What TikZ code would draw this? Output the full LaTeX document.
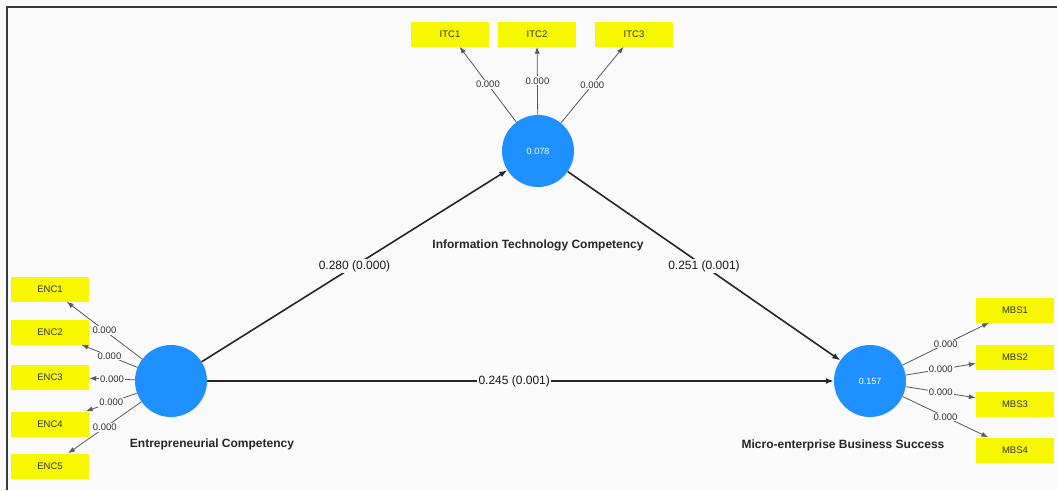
\documentclass[tikz,border=0pt]{standalone}
\usepackage{fontspec}
\setmainfont{Liberation Sans}
\usetikzlibrary{arrows.meta}
\definecolor{bgc}{HTML}{FAFAFA}
\definecolor{lvblue}{HTML}{1E90FF}
\definecolor{indyel}{HTML}{F7F700}
\definecolor{framec}{HTML}{3A3A3A}
\begin{document}
\begin{tikzpicture}[x=1pt,y=-1pt,
  lv/.style={circle,fill=lvblue,minimum size=72pt,inner sep=0pt,text=white,font=\fontsize{9}{10}\selectfont},
  ind/.style={rectangle,fill=indyel,minimum width=78pt,minimum height=25pt,inner sep=0pt,font=\fontsize{9.5}{11}\selectfont,text=black!80},
  pathline/.style={line width=1.6pt,black!85,-{Latex[length=8pt,width=6pt]}},
  loadline/.style={line width=0.8pt,black!65,-{Latex[length=7pt,width=5pt]}},
  coef/.style={fill=bgc,inner sep=1.5pt,font=\fontsize{12}{14}\selectfont,text=black!90},
  ldg/.style={fill=bgc,inner sep=1pt,font=\fontsize{9.5}{11}\selectfont,text=black!80},
  lvname/.style={font=\bfseries\fontsize{12}{14}\selectfont,text=black!85}]
\fill[bgc] (0,0) rectangle (1057,490);
\useasboundingbox (0,0) rectangle (1057,490);
\draw[framec,line width=2pt] (7,490) -- (7,7) -- (1057,7);
% latent variables
\node[lv] (ec) at (171,381) {};
\node[lv] (itc) at (538,151) {0.078};
\node[lv] (mbs) at (870,381) {0.157};
% names
\node[lvname] (ecname) at (212,444) {Entrepreneurial Competency};
\node[lvname] (itcname) at (538,245) {Information Technology Competency};
\node[lvname] (mbsname) at (843,445) {Micro-enterprise Business Success};
% indicators
\node[ind] (enc1) at (50,289) {ENC1};
\node[ind] (enc2) at (50,332) {ENC2};
\node[ind] (enc3) at (50,377) {ENC3};
\node[ind] (enc4) at (50,424) {ENC4};
\node[ind] (enc5) at (50,466) {ENC5};
\node[ind] (itc1) at (450,34) {ITC1};
\node[ind] (itc2) at (537,34) {ITC2};
\node[ind] (itc3) at (634,34) {ITC3};
\node[ind] (mbs1) at (1015,310) {MBS1};
\node[ind] (mbs2) at (1015,357) {MBS2};
\node[ind] (mbs3) at (1015,404) {MBS3};
\node[ind] (mbs4) at (1015,450) {MBS4};
% structural paths
\draw[pathline] (ec) -- node[coef,pos=0.5]{0.280 (0.000)} (itc);
\draw[pathline] (itc) -- node[coef,pos=0.5]{0.251 (0.001)} (mbs);
\draw[pathline] (ec) -- node[coef,pos=0.49]{0.245 (0.001)} (mbs);
% loadings
\draw[loadline] (ec) -- node[ldg]{0.000} (enc1);
\draw[loadline] (ec) -- node[ldg]{0.000} (enc2);
\draw[loadline] (ec) -- node[ldg]{0.000} (enc3);
\draw[loadline] (ec) -- node[ldg]{0.000} (enc4);
\draw[loadline] (ec) -- node[ldg]{0.000} (enc5);
\draw[loadline] (itc) -- node[ldg]{0.000} (itc1);
\draw[loadline] (itc) -- node[ldg]{0.000} (itc2);
\draw[loadline] (itc) -- node[ldg]{0.000} (itc3);
\draw[loadline] (mbs) -- node[ldg]{0.000} (mbs1);
\draw[loadline] (mbs) -- node[ldg]{0.000} (mbs2);
\draw[loadline] (mbs) -- node[ldg]{0.000} (mbs3);
\draw[loadline] (mbs) -- node[ldg]{0.000} (mbs4);
\end{tikzpicture}
\end{document}
